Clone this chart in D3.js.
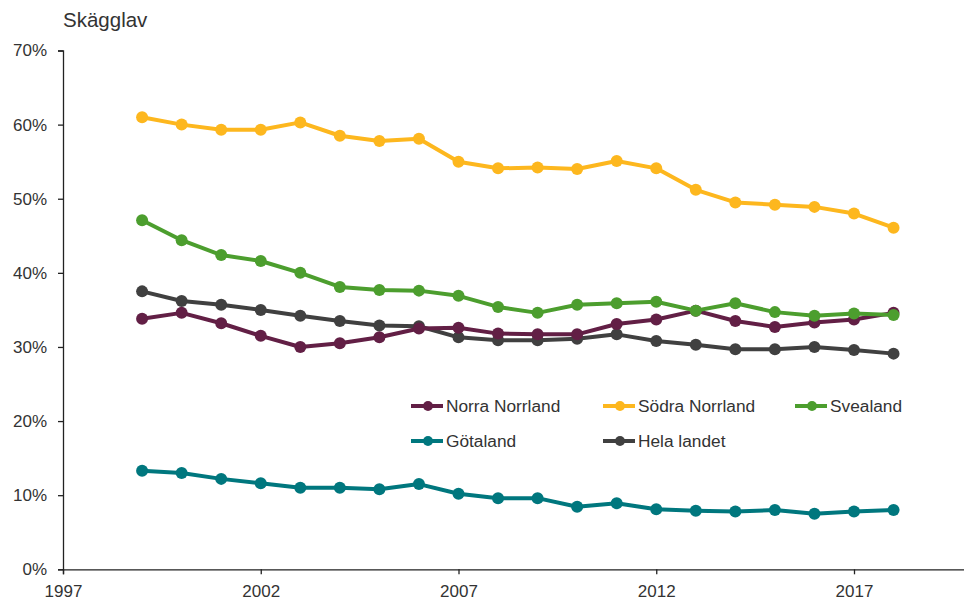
<!DOCTYPE html>
<html>
<head>
<meta charset="utf-8">
<script src="https://cdn.jsdelivr.net/npm/d3@7"></script>
<style>
body{margin:0;background:#fff;}
svg text{font-family:"Liberation Sans",Arial,sans-serif;fill:#333;}
</style>
</head>
<body>
<svg width="964" height="600"></svg>
<script>
var years = d3.range(1999, 2019);
var norraNorrland = [33.8,34.6,33.2,31.5,30.0,30.5,31.3,32.5,32.6,31.8,31.7,31.7,33.1,33.7,34.9,33.5,32.7,33.3,33.7,34.6];
var sodraNorrland = [61.0,60.0,59.3,59.3,60.3,58.5,57.8,58.1,55.0,54.1,54.2,54.0,55.1,54.1,51.2,49.5,49.2,48.9,48.0,46.1];
var svealand      = [47.1,44.4,42.4,41.6,40.0,38.1,37.7,37.6,36.9,35.4,34.6,35.7,35.9,36.1,34.9,35.9,34.7,34.2,34.5,34.3];
var gotaland      = [13.3,13.0,12.2,11.6,11.0,11.0,10.8,11.5,10.2,9.6,9.6,8.45,8.9,8.1,7.9,7.8,8.0,7.5,7.8,8.0];
var helaLandet    = [37.5,36.2,35.7,35.0,34.2,33.5,32.9,32.8,31.3,30.9,30.9,31.1,31.7,30.8,30.3,29.7,29.7,30.0,29.6,29.1];

var seriesNames = ["Norra Norrland","Södra Norrland","Svealand","Götaland","Hela landet"];
var seriesColors = ["#621f45","#fdb71e","#4c9e2e","#00777e","#404040"];
var seriesValues = [norraNorrland, sodraNorrland, svealand, gotaland, helaLandet];
// ritordning: hela landet under norra, svealand sist
var drawOrder = [4,1,3,0,2];

var yTicks = [0,10,20,30,40,50,60,70];
var xTicks = [1997,2002,2007,2012,2017];

var svg = d3.select("svg");
var x = d3.scaleLinear().domain([1997,2020]).range([63, 63+23*39.55]);
var y = d3.scaleLinear().domain([0,70]).range([569.3, 50.5]);

// titel
svg.append("text").attr("x",63).attr("y",27).style("font-size","20.5px").text("Skägglav");

// y-axel
var yAxis = svg.append("g").attr("transform","translate(63,0)")
  .call(d3.axisLeft(y).tickValues(yTicks).tickFormat(function(d){return d+"%";}).tickSize(5).tickPadding(11));
yAxis.select(".domain").attr("stroke","#222").attr("stroke-width",1.3);
yAxis.selectAll(".tick line").attr("stroke","#222").attr("stroke-width",1.3);
yAxis.selectAll(".tick text").style("font-size","17px").attr("fill","#333").attr("font-family",null);

// x-axel
var xAxis = svg.append("g").attr("transform","translate(0,569.3)")
  .call(d3.axisBottom(x).tickValues(xTicks).tickFormat(d3.format("d")).tickSize(5).tickPadding(10.5));
xAxis.select(".domain").attr("stroke","#222").attr("stroke-width",1.3);
xAxis.selectAll(".tick line").attr("stroke","#222").attr("stroke-width",1.3);
xAxis.selectAll(".tick text").style("font-size","17px").attr("fill","#333").attr("font-family",null);

var line = d3.line().x(function(d){return x(d[0]);}).y(function(d){return y(d[1]);});

drawOrder.forEach(function(si){
  var pts = years.map(function(yr,i){return [yr, seriesValues[si][i]];});
  var g = svg.append("g");
  g.append("path").datum(pts).attr("d",line).attr("fill","none")
    .attr("stroke",seriesColors[si]).attr("stroke-width",4).attr("stroke-linejoin","round");
  g.selectAll("circle").data(pts).enter().append("circle")
    .attr("cx",function(d){return x(d[0]);}).attr("cy",function(d){return y(d[1]);})
    .attr("r",6).attr("fill",seriesColors[si]);
});

// legend
var legendPos = [[411,406],[603,406],[795,406],[411,441],[603,441]];
seriesNames.forEach(function(name,i){
  var lg = svg.append("g").attr("transform","translate("+legendPos[i][0]+","+legendPos[i][1]+")");
  lg.append("line").attr("x1",0).attr("x2",32).attr("y1",0).attr("y2",0)
    .attr("stroke",seriesColors[i]).attr("stroke-width",4);
  lg.append("circle").attr("cx",17).attr("cy",0).attr("r",5).attr("fill",seriesColors[i]);
  lg.append("text").attr("x",35).attr("y",0).attr("dy","0.35em").style("font-size","17.3px").text(name);
});
</script>
</body>
</html>
